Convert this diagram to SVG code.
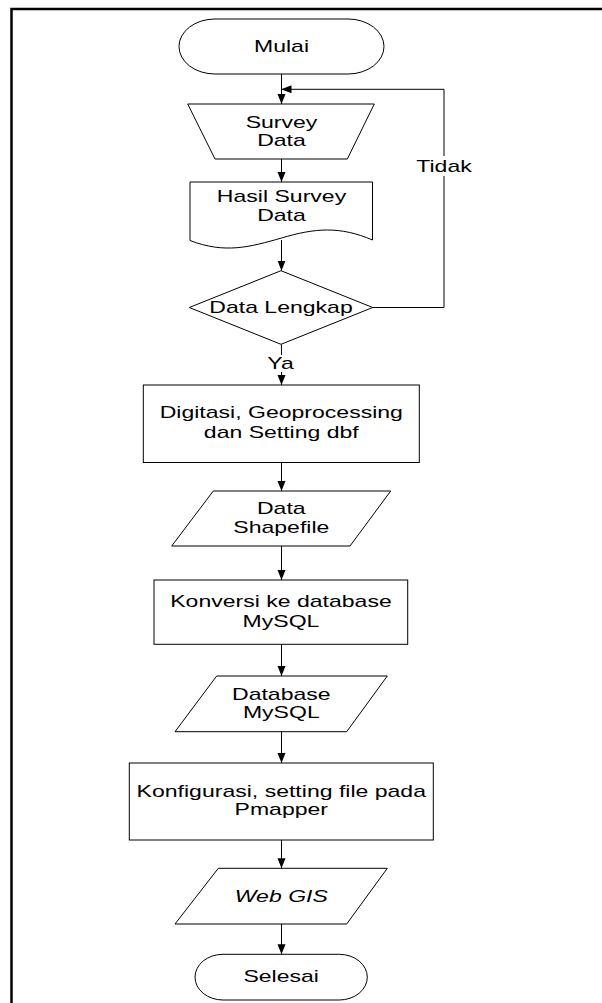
<svg xmlns="http://www.w3.org/2000/svg" width="602" height="1003" viewBox="0 0 602 1003">
<defs>
<style>
.shape{fill:#fff;stroke:#000;stroke-width:1}
.conn{fill:none;stroke:#000;stroke-width:1}
.t{font-family:"Liberation Sans",Arial,sans-serif;font-size:16px;fill:#000;text-anchor:middle}
.it{font-style:italic}
.bg{fill:#fff;stroke:none}
</style>
<marker id="arr" markerUnits="userSpaceOnUse" markerWidth="10" markerHeight="10" viewBox="0 0 10 10" refX="10" refY="5" orient="auto">
<path d="M0,1 L10,5 L0,9 Z" fill="#000"/>
</marker>
</defs>
<rect x="0" y="0" width="602" height="1003" fill="#fff"/>
<g id="frame">
<path d="M11.5,1003 V9 H602" fill="none" stroke="#000" stroke-width="2.5"/>
</g>
<g id="connectors">
<path class="conn" d="M281.5,74 V104" marker-end="url(#arr)"/>
<path class="conn" d="M281.5,159 V182" marker-end="url(#arr)"/>
<path class="conn" d="M281.5,240 V270.7" marker-end="url(#arr)"/>
<path class="conn" d="M281.5,344.5 V385" marker-end="url(#arr)"/>
<path class="conn" d="M281.5,462.5 V491" marker-end="url(#arr)"/>
<path class="conn" d="M281.5,546 V580" marker-end="url(#arr)"/>
<path class="conn" d="M281.5,644.3 V676" marker-end="url(#arr)"/>
<path class="conn" d="M281.5,731.7 V763" marker-end="url(#arr)"/>
<path class="conn" d="M281.5,840 V868.3" marker-end="url(#arr)"/>
<path class="conn" d="M281.5,924 V954.3" marker-end="url(#arr)"/>
<path class="conn" d="M372.7,307.5 H444 V89.3 H281.5" marker-end="url(#arr)"/>
</g>
<g id="label-tidak">
<rect class="bg" x="415" y="156" width="58" height="20"/>
<text class="t" transform="translate(444,0) scale(1.44,1)" x="0" y="171.7">Tidak</text>
</g>
<g id="label-ya">
<rect class="bg" x="266" y="355" width="30" height="17"/>
<text class="t" transform="translate(280.5,0) scale(1.44,1)" x="0" y="369.3">Ya</text>
</g>
<g id="mulai">
<rect class="shape" x="179" y="19" width="205" height="55" rx="36" ry="27.5"/>
<text class="t" transform="translate(281.5,0) scale(1.44,1)" x="0" y="52">Mulai</text>
</g>
<g id="survey-data">
<path class="shape" d="M187.7,104 H374.3 L347.3,159 H215 Z"/>
<text class="t" transform="translate(281.5,0) scale(1.44,1)" x="0" y="128">Survey</text>
<text class="t" transform="translate(281.5,0) scale(1.44,1)" x="0" y="146.5">Data</text>
</g>
<g id="hasil-survey">
<path class="shape" d="M190,182 H372.5 V240 C340,226 315,228 281.5,238 C250,247 225,254 190,240.5 Z"/>
<text class="t" transform="translate(281.5,0) scale(1.44,1)" x="0" y="202.5">Hasil Survey</text>
<text class="t" transform="translate(281.5,0) scale(1.44,1)" x="0" y="221">Data</text>
</g>
<g id="data-lengkap">
<path class="shape" d="M281,270.7 L372.7,307.5 L281,344.3 L189.3,307.5 Z"/>
<text class="t" transform="translate(281,0) scale(1.44,1)" x="0" y="312.7">Data Lengkap</text>
</g>
<g id="digitasi">
<rect class="shape" x="143.3" y="385" width="276" height="77.5"/>
<text class="t" transform="translate(281.3,0) scale(1.44,1)" x="0" y="418.3">Digitasi, Geoprocessing</text>
<text class="t" transform="translate(281.3,0) scale(1.44,1)" x="0" y="438.3">dan Setting dbf</text>
</g>
<g id="data-shapefile">
<path class="shape" d="M213.3,491 H390.7 L350,546 H171.7 Z"/>
<text class="t" transform="translate(281.3,0) scale(1.44,1)" x="0" y="514">Data</text>
<text class="t" transform="translate(281.3,0) scale(1.44,1)" x="0" y="532.7">Shapefile</text>
</g>
<g id="konversi">
<rect class="shape" x="154" y="580" width="253.7" height="64.3"/>
<text class="t" transform="translate(281,0) scale(1.44,1)" x="0" y="607.3">Konversi ke database</text>
<text class="t" transform="translate(281,0) scale(1.44,1)" x="0" y="626.7">MySQL</text>
</g>
<g id="database-mysql">
<path class="shape" d="M216.7,676 H387.3 L346.7,731.7 H175 Z"/>
<text class="t" transform="translate(281.3,0) scale(1.44,1)" x="0" y="700">Database</text>
<text class="t" transform="translate(281.3,0) scale(1.44,1)" x="0" y="718.3">MySQL</text>
</g>
<g id="konfigurasi">
<rect class="shape" x="129.3" y="763" width="304" height="77"/>
<text class="t" transform="translate(281.3,0) scale(1.44,1)" x="0" y="796.7">Konfigurasi, setting file pada</text>
<text class="t" transform="translate(281.3,0) scale(1.44,1)" x="0" y="815">Pmapper</text>
</g>
<g id="web-gis">
<path class="shape" d="M218.3,868.3 H387.3 L346.7,924 H175 Z"/>
<text class="t it" transform="translate(281.3,0) scale(1.44,1)" x="0" y="901.7">Web GIS</text>
</g>
<g id="selesai">
<rect class="shape" x="195" y="954.3" width="172.3" height="45.7" rx="28" ry="22.85"/>
<text class="t" transform="translate(281.2,0) scale(1.44,1)" x="0" y="981.7">Selesai</text>
</g>
</svg>
